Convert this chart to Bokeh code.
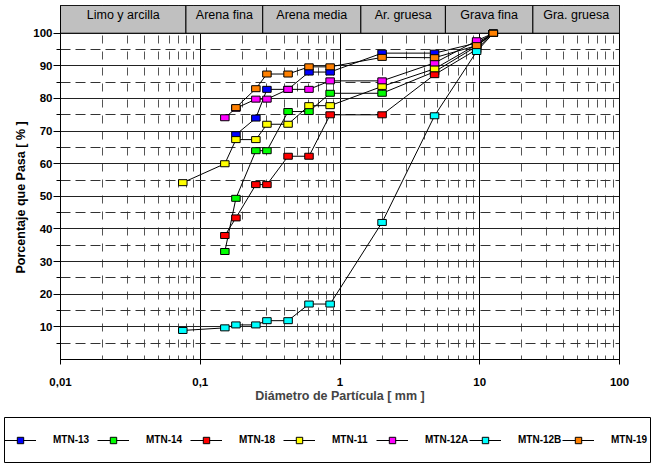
from bokeh.plotting import figure
from bokeh.models import (Range1d, FixedTicker, Legend, LegendItem,
                          ColumnDataSource, Title)
from bokeh.layouts import column
from bokeh.embed import file_html
from bokeh.resources import INLINE
from bokeh.core.properties import value
import math

# ---------------- data ----------------
SIEVES_MM = [0.075, 0.15, 0.18, 0.25, 0.3, 0.425, 0.6, 0.85, 2.0, 4.75, 9.5, 12.5]

MTN_13 = [None, None, 68.9, 74.0, 82.8, 82.8, 88.1, 88.1, 93.9, 93.9, 97.0, 100]
MTN_14 = [None, 33.1, 49.4, 64.0, 64.0, 76.0, 76.0, 81.6, 81.6, 88.2, 96.0, 100]
MTN_18 = [None, 38.0, 43.4, 53.6, 53.6, 62.3, 62.3, 75.0, 75.0, 87.3, 95.0, 100]
MTN_11 = [54.2, 60.0, 67.4, 67.4, 72.1, 72.1, 77.8, 77.8, 83.7, 89.1, 96.5, 100]
MTN_12A = [None, 74.1, 77.0, 79.8, 79.8, 82.8, 82.8, 85.4, 85.4, 90.9, 97.7, 100]
MTN_12B = [8.9, 9.7, 10.6, 10.6, 11.9, 11.9, 17.0, 17.0, 42.0, 74.7, 94.4, 100]
MTN_19 = [None, None, 77.2, 83.0, 87.5, 87.5, 89.7, 89.7, 92.6, 92.5, 96.2, 100]

SERIES_NAMES = ["MTN-13", "MTN-14", "MTN-18", "MTN-11", "MTN-12A", "MTN-12B", "MTN-19"]
SERIES_VALUES = [MTN_13, MTN_14, MTN_18, MTN_11, MTN_12A, MTN_12B, MTN_19]
SERIES_COLORS = ["#0000FF", "#00FF00", "#FF0000", "#FFFF00", "#FF00FF", "#00FFFF", "#FF8000"]

CLASS_NAMES = ["Limo y arcilla", "Arena fina", "Arena media", "Ar. gruesa",
               "Grava fina", "Gra. gruesa"]
CLASS_EDGES = [0.01, 0.079, 0.28, 1.41, 5.68, 24.0, 100]

X_TICKS = [0.01, 0.1, 1, 10, 100]
X_TICK_LABELS = ["0,01", "0,1", "1", "10", "100"]
Y_TICKS = [10, 20, 30, 40, 50, 60, 70, 80, 90, 100]
Y_MINOR = [5, 15, 25, 35, 45, 55, 65, 75, 85, 95]

HEADER_TOP = 108.5
FONT = "Liberation Sans"

# ---------------- main figure ----------------
p = figure(width=651, height=416, x_axis_type="log",
           x_range=Range1d(0.01, 100), y_range=Range1d(0, HEADER_TOP),
           output_backend="svg", toolbar_location=None,
           min_border_left=60, min_border_right=32,
           min_border_top=5, min_border_bottom=57)
p.frame_align = False
p.background_fill_color = "white"
p.border_fill_color = "white"
p.outline_line_color = "black"
p.outline_line_width = 1

x_minor = [m * d for d in [0.01, 0.1, 1, 10] for m in range(2, 10)]
p.xaxis.ticker = FixedTicker(ticks=X_TICKS, minor_ticks=x_minor)
p.xaxis.major_label_overrides = {t: l for t, l in zip(X_TICKS, X_TICK_LABELS)}
p.yaxis.ticker = FixedTicker(ticks=Y_TICKS, minor_ticks=Y_MINOR)

for ax in (p.xaxis[0], p.yaxis[0]):
    ax.axis_line_color = "black"
    ax.major_tick_line_color = "black"
    ax.minor_tick_line_color = "black"
    ax.major_tick_in = 0
    ax.minor_tick_in = 0
    ax.major_label_text_font = FONT
    ax.major_label_text_font_style = "bold"
    ax.major_label_text_font_size = "11.5px"
    ax.major_label_text_color = "black"

p.xaxis.major_tick_out = 5
p.xaxis.minor_tick_out = 0
p.xaxis.major_label_standoff = 13
p.xaxis.axis_label = "Diámetro de Partícula [ mm ]"
p.xaxis.axis_label_text_font = FONT
p.xaxis.axis_label_text_font_style = "bold"
p.xaxis.axis_label_text_font_size = "12.5px"
p.xaxis.axis_label_standoff = 0

p.yaxis.major_tick_out = 7
p.yaxis.minor_tick_out = 4
p.yaxis.major_label_standoff = 1

ytitle = Title(text="Porcentaje que Pasa [ % ]", align="left", offset=86,
               text_font=FONT, text_font_style="bold",
               text_font_size="12.5px", text_color="black", standoff=5)
p.add_layout(ytitle, "left")

# grids
p.xgrid.grid_line_color = "black"
p.xgrid.grid_line_width = 1
p.xgrid.minor_grid_line_color = "#555555"
p.xgrid.minor_grid_line_width = 1
p.xgrid.minor_grid_line_dash = "8 8"
p.xgrid.minor_grid_line_dash_offset = 4
p.ygrid.grid_line_color = "#222222"
p.ygrid.grid_line_width = 1
p.ygrid.minor_grid_line_color = "#333333"
p.ygrid.minor_grid_line_width = 1
p.ygrid.minor_grid_line_dash = "10 5"

# header band with soil classes
hdr = ColumnDataSource(dict(
    left=CLASS_EDGES[:-1], right=CLASS_EDGES[1:],
    mid=[math.sqrt(a * b) for a, b in zip(CLASS_EDGES[:-1], CLASS_EDGES[1:])],
    name=CLASS_NAMES))
p.quad(left="left", right="right", bottom=100, top=HEADER_TOP, source=hdr,
       fill_color="#C0C0C0", line_color="black", line_width=1)
p.text(x="mid", y=HEADER_TOP, text="name", source=hdr,
       text_font=value(FONT), text_font_size="12.5px", text_color="black",
       text_align="center", text_baseline="middle", y_offset=9)

# ---------------- legend strip ----------------
lg = figure(width=651, height=47, x_range=Range1d(0, 1), y_range=Range1d(-2, -1),
            output_backend="svg", toolbar_location=None,
            x_axis_location=None, y_axis_location=None,
            min_border_left=4, min_border_right=1,
            min_border_top=1, min_border_bottom=1)
lg.frame_align = False
lg.grid.visible = False
lg.outline_line_color = "black"
lg.outline_line_width = 1
lg.background_fill_color = "white"

# series: connecting line + rectangular markers (legend samples in strip)
items = []
for name, vals, color in zip(SERIES_NAMES, SERIES_VALUES, SERIES_COLORS):
    xs = [s for s, v in zip(SIEVES_MM, vals) if v is not None]
    ys = [v for v in vals if v is not None]
    src = ColumnDataSource(dict(x=xs, y=ys))
    p.line("x", "y", source=src, line_color="black", line_width=1)
    p.rect("x", "y", width=8.5, height=6, width_units="screen",
           height_units="screen", source=src, fill_color=color,
           line_color="black", line_width=1)
    # same data in the legend strip (outside its visible range)
    l_line = lg.line("x", "y", source=src, line_color="black", line_width=1)
    l_sq = lg.scatter("x", "y", source=src, marker="square", size=6,
                      fill_color=color, line_color="black", line_width=1)
    items.append(LegendItem(label=name, renderers=[l_line, l_sq]))

legend = Legend(items=items, orientation="horizontal", location="left",
                margin=0, padding=8, spacing=0, glyph_width=32,
                glyph_height=16, label_height=16, label_standoff=17,
                label_width=44, label_text_font=FONT,
                label_text_font_style="bold", label_text_font_size="10px",
                label_text_color="black", border_line_color=None,
                background_fill_alpha=0)
lg.add_layout(legend)

layout = column(p, lg)
open("out.html", "w").write(file_html(layout, INLINE))
